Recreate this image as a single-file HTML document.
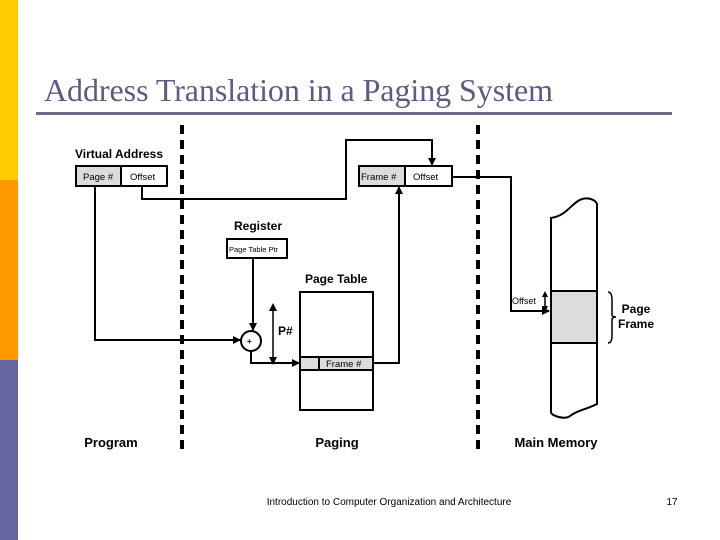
<!DOCTYPE html>
<html><head><style>
body{margin:0;width:720px;height:540px;background:#fff;position:relative;overflow:hidden;font-family:"Liberation Sans",sans-serif}
.s{position:absolute;left:0;width:18px}
</style></head><body>
<div class="s" style="top:0;height:180px;background:#ffcc00"></div>
<div class="s" style="top:180px;height:180px;background:#ff9900"></div>
<div class="s" style="top:360px;height:180px;background:#6666a0"></div>
<svg width="720" height="540" style="position:absolute;left:0;top:0" font-family="Liberation Sans, sans-serif">
<defs><marker id="a" markerWidth="8" markerHeight="8" refX="7" refY="4" orient="auto" markerUnits="userSpaceOnUse"><path d="M0,0L8,4L0,8z" fill="#000"/></marker></defs>
<text x="44" y="101" font-family="Liberation Serif, serif" font-size="32" fill="#5c5c82" textLength="509">Address Translation in a Paging System</text>
<rect x="36" y="112" width="636" height="3" fill="#6b6b8e"/>
<g stroke="#000" stroke-width="4" stroke-dasharray="9,6"><line x1="182" y1="125" x2="182" y2="455"/><line x1="478" y1="125" x2="478" y2="455"/></g>
<text x="75" y="158" font-size="12" font-weight="bold">Virtual Address</text>
<g stroke="#000" stroke-width="2">
<rect x="76" y="166" width="45" height="20" fill="#dcdcdc"/><rect x="121" y="166" width="46" height="20" fill="#fff"/>
<rect x="359" y="166" width="46" height="20" fill="#dcdcdc"/><rect x="405" y="166" width="47" height="20" fill="#fff"/>
<rect x="227" y="239" width="60" height="19" fill="#fff"/>
<rect x="300" y="292" width="73" height="118" fill="#fff"/>
<rect x="300" y="357" width="73" height="13" fill="#dcdcdc"/><line x1="319" y1="357" x2="319" y2="370"/>
<rect x="551" y="291" width="46" height="52" fill="#dcdcdc"/>
<circle cx="251" cy="341" r="10" fill="#fff"/>
<g fill="none">
<path d="M142 186V199H346V140H432V165" marker-end="url(#a)"/>
<path d="M452 177H511V311H549" marker-end="url(#a)"/>
<path d="M253 258V330" marker-end="url(#a)"/>
<path d="M95 186V340H240" marker-end="url(#a)"/>
<path d="M251 351V363H299" marker-end="url(#a)"/>
<path d="M373 363H399V187" marker-end="url(#a)"/>
<path d="M551 218C565 216 570 206 578 201C586 196 595 199 597 204V404C585 410 578 410 570 416C565 420 551 416 551 412Z"/>
<path d="M608 292Q612 292 612 300V315Q612 317 616 317Q612 317 612 320V335Q612 343 608 343" stroke-width="1.5"/>
</g>
<g stroke-width="1.5"><line x1="273" y1="307" x2="273" y2="361"/><line x1="545" y1="294" x2="545" y2="309"/></g>
</g>
<path d="M269 311L273 303L277 311zM269 357L273 365L277 357zM542 297L545 291L548 297zM542 306L545 312L548 306z"/>
<text x="83" y="180" font-size="9.5">Page #</text><text x="130" y="180" font-size="9.5">Offset</text>
<text x="361" y="180" font-size="9.5">Frame #</text><text x="413" y="180" font-size="9.5">Offset</text>
<text x="234" y="230" font-size="12" font-weight="bold">Register</text>
<text x="229" y="252" font-size="7.5">Page Table Ptr</text>
<text x="305" y="283" font-size="12" font-weight="bold">Page Table</text>
<text x="326" y="367" font-size="9.5">Frame #</text>
<text x="247" y="344" font-size="8" font-weight="bold">+</text>
<text x="278" y="335" font-size="12" font-weight="bold">P#</text>
<text x="512" y="304" font-size="9">Offset</text>
<text x="636" y="313" font-size="12" font-weight="bold" text-anchor="middle">Page</text>
<text x="636" y="328" font-size="12" font-weight="bold" text-anchor="middle">Frame</text>
<text x="111" y="447" font-size="13" font-weight="bold" text-anchor="middle">Program</text>
<text x="337" y="447" font-size="13" font-weight="bold" text-anchor="middle">Paging</text>
<text x="556" y="447" font-size="13" font-weight="bold" text-anchor="middle">Main Memory</text>
<text x="389" y="505" font-size="10" text-anchor="middle">Introduction to Computer Organization and Architecture</text>
<text x="672" y="505" font-size="10" text-anchor="middle">17</text>
</svg>
</body></html>
